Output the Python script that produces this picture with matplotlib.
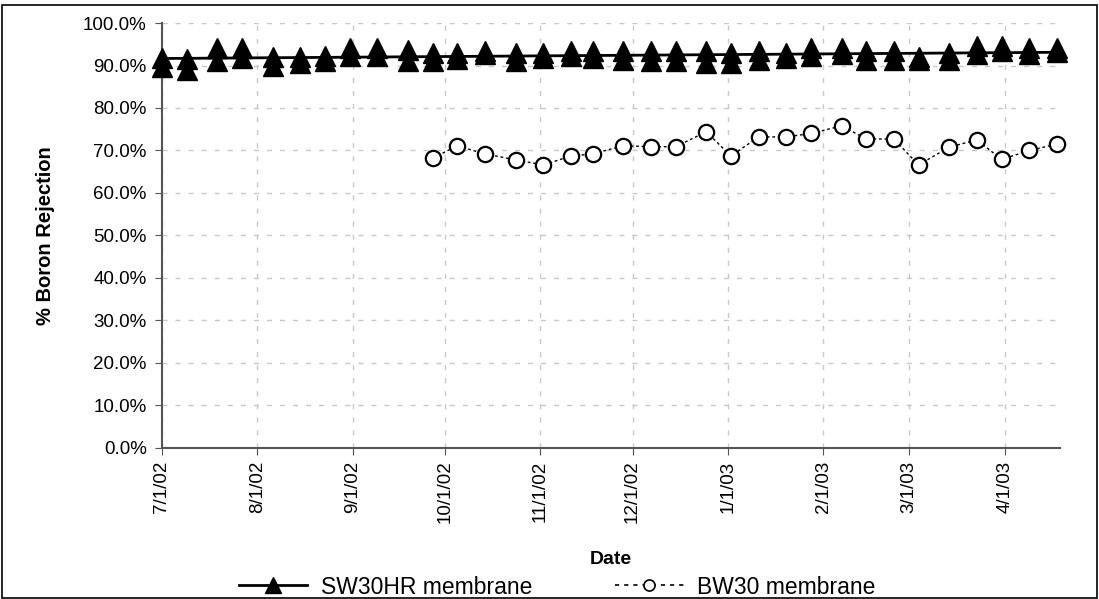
import pandas as pd
import numpy as np
import matplotlib.pyplot as plt
import matplotlib.dates as mdates
from matplotlib.ticker import PercentFormatter, FuncFormatter, MultipleLocator
from matplotlib.lines import Line2D
from matplotlib.patches import Rectangle

plt.rcParams['font.family'] = ['Liberation Sans', 'DejaVu Sans']

# sample dates (roughly every 9 days)
dates = ['7/1/02', '7/9/02', '7/19/02', '7/27/02', '8/6/02', '8/15/02', '8/23/02',
         '8/31/02', '9/9/02', '9/19/02', '9/27/02', '10/5/02', '10/14/02', '10/24/02',
         '11/2/02', '11/11/02', '11/18/02', '11/28/02', '12/7/02', '12/15/02',
         '12/25/02', '1/2/03', '1/11/03', '1/20/03', '1/28/03', '2/7/03', '2/15/03',
         '2/24/03', '3/4/03', '3/14/03', '3/23/03', '3/31/03', '4/9/03', '4/18/03']

# SW30HR: two readings per date
sw30hr_a = [91.7, 91.6, 94.2, 94.2, 92.1, 92.1, 92.3, 94.2, 94.2, 93.6, 92.9, 92.9,
            93.3, 92.9, 92.9, 93.3, 93.3, 93.3, 93.3, 93.3, 93.3, 92.9, 93.3, 92.9,
            94.2, 94.2, 93.3, 93.3, 92.1, 92.9, 94.6, 94.6, 94.2, 94.2]
sw30hr_b = [89.6, 88.9, 91.1, 91.8, 89.9, 90.7, 91.1, 92.3, 92.3, 91.1, 91.1, 91.5,
            92.7, 91.1, 91.7, 92.2, 91.7, 91.3, 91.0, 91.0, 90.5, 90.5, 91.3, 91.7,
            92.2, 92.6, 91.3, 91.3, 91.3, 91.3, 92.7, 93.5, 92.7, 93.1]

# BW30 starts at 9/27/02
bw30_dates = dates[10:]
bw30 = [68.2, 71.1, 69.2, 67.8, 66.6, 68.7, 69.2, 71.1, 70.9, 70.9, 74.4, 68.7,
        73.2, 73.2, 74.0, 75.8, 72.7, 72.7, 66.6, 70.8, 72.5, 67.9, 70.0, 71.5]

x = pd.to_datetime(dates, format='%m/%d/%y')
x_bw = pd.to_datetime(bw30_dates, format='%m/%d/%y')

fig = plt.figure(figsize=(10.99, 5.99), dpi=100)
ax = fig.add_axes([0.1474, 0.2521, 0.8171, 0.7095])

# trendline for SW30HR (linear fit on all readings)
xn = mdates.date2num(x)
coef = np.polyfit(np.concatenate([xn, xn]), np.array(sw30hr_a + sw30hr_b), 1)
xt = np.array([xn[0], xn[-1]])
ax.plot(xt, np.polyval(coef, xt), color='black', lw=2, zorder=3)

ax.plot(x, sw30hr_b, linestyle='none', marker='^', ms=14, color='black', zorder=4, clip_on=False)
ax.plot(x, sw30hr_a, linestyle='none', marker='^', ms=14, color='black', zorder=4, clip_on=False)

ax.plot(x_bw, bw30, linestyle=(0, (2, 2)), lw=1, color='black', marker='o', ms=11,
        mfc='white', mec='black', mew=1.6, zorder=4, clip_on=False)

ax.set_ylim(0, 100)
ax.set_xlim(pd.Timestamp('2002-07-01'), pd.Timestamp('2003-04-19'))
ax.yaxis.set_major_locator(MultipleLocator(10))
ax.yaxis.set_major_formatter(PercentFormatter(xmax=100, decimals=1))
ax.xaxis.set_major_locator(mdates.MonthLocator())


def fmt_date(v, pos):
    d = mdates.num2date(v)
    return f"{d.month}/{d.day}/{d:%y}"


ax.xaxis.set_major_formatter(FuncFormatter(fmt_date))
ax.tick_params(axis='x', labelrotation=90, labelsize=13.5, length=5, pad=4, color='#555555')
ax.tick_params(axis='y', labelsize=13.5, length=5, pad=6, color='#555555')

ax.grid(True, color='#c8c8c8', lw=1, linestyle=(0, (3.6, 5.8)))
ax.set_axisbelow(True)
for s in ['top', 'right']:
    ax.spines[s].set_visible(False)
for s in ['left', 'bottom']:
    ax.spines[s].set_color('#555555')
    ax.spines[s].set_linewidth(1.5)

ax.set_xlabel('Date', fontsize=14, fontweight='bold', labelpad=20)
ax.set_ylabel('% Boron Rejection', fontsize=14.5, fontweight='bold', labelpad=20)

handles = [Line2D([], [], color='black', lw=2, marker='^', ms=11),
           Line2D([], [], color='black', lw=1.2, linestyle=(0, (2.5, 3)), marker='o', ms=8,
                  mfc='white', mec='black', mew=1.2)]
fig.legend(handles, ['SW30HR membrane', 'BW30 membrane'], loc='center',
           bbox_to_anchor=(0.507, 0.02), ncol=2, frameon=False, fontsize=16.5,
           handlelength=3.0, handletextpad=0.6, columnspacing=3.6)

fig.patches.append(Rectangle((0.002, 0.002), 0.996, 0.99, transform=fig.transFigure,
                             fill=False, edgecolor='black', lw=1.2))

plt.savefig('out.png', dpi=100)
